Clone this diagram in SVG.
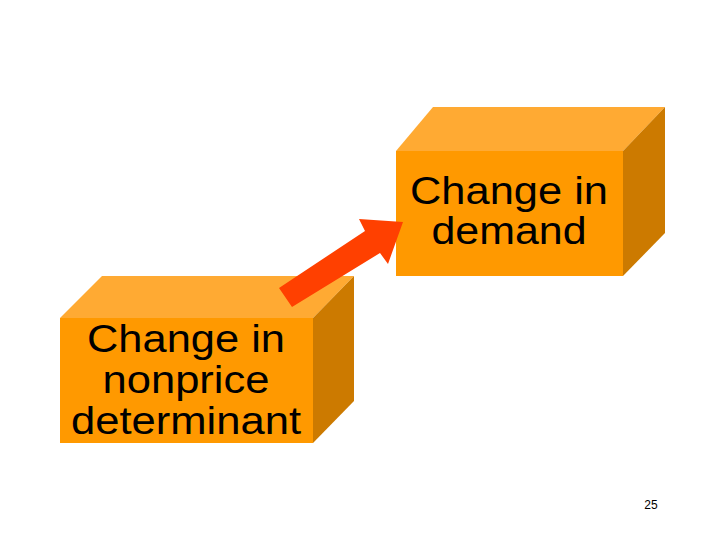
<svg xmlns="http://www.w3.org/2000/svg" width="720" height="540" viewBox="0 0 720 540">
<style>
.front{fill:#FF9900}
.top{fill:#FFAA33}
.side{fill:#CC7A00}
.lbl{font-family:"Liberation Sans",Arial,sans-serif;font-size:38px;fill:#000;text-anchor:middle}
.pg{font-family:"Liberation Sans",Arial,sans-serif;font-size:12px;fill:#000;text-anchor:middle}
</style>
<rect width="720" height="540" fill="#fff"/>
<g id="node-demand">
<polygon class="top" points="396,151 433,107 665,107 623,151"/>
<polygon class="side" points="623,151 665,107 665,233 623,276"/>
<rect class="front" x="396" y="151" width="227" height="125"/>
<text class="lbl" x="509" y="204" textLength="198" lengthAdjust="spacingAndGlyphs">Change in</text>
<text class="lbl" x="509" y="244" textLength="155" lengthAdjust="spacingAndGlyphs">demand</text>
</g>
<g id="node-nonprice">
<polygon class="top" points="60,318 102,276 354,276 313,318"/>
<polygon class="side" points="313,318 354,276 354,401 313,443"/>
<rect class="front" x="60" y="318" width="253" height="125"/>
<text class="lbl" x="186" y="352" textLength="198" lengthAdjust="spacingAndGlyphs">Change in</text>
<text class="lbl" x="186" y="393" textLength="167" lengthAdjust="spacingAndGlyphs">nonprice</text>
<text class="lbl" x="186" y="434" textLength="230" lengthAdjust="spacingAndGlyphs">determinant</text>
</g>
<g id="connectors">
<polygon fill="#FF4000" points="279,288 365,231 359,219 403,222 388,264 380,253 292,307"/>
</g>
<text class="pg" x="651" y="509">25</text>
</svg>
